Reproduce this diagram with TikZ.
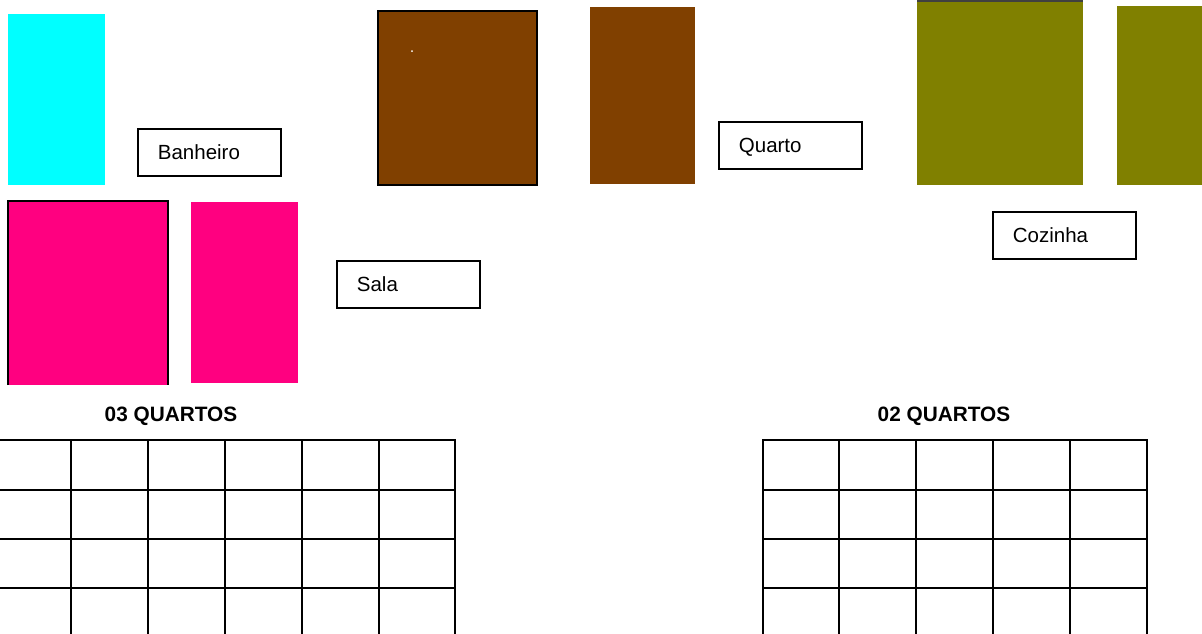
\documentclass[tikz,border=0pt]{standalone}
\usepackage{fontspec}
\setmainfont{Liberation Sans}
\definecolor{cyanfill}{HTML}{00FFFF}
\definecolor{brownfill}{HTML}{804000}
\definecolor{olivefill}{HTML}{808000}
\definecolor{pinkfill}{HTML}{FF0080}
\tikzset{
  labelbox/.style={draw=black, line width=1.7pt, anchor=north west,
    minimum width=143.5pt, minimum height=47pt, inner xsep=20pt, inner ysep=0pt,
    text width=103pt, align=left, text height=15pt, text depth=0pt,
    font=\fontsize{20.5}{24}\selectfont},
  titletext/.style={font=\fontsize{20.8}{24}\selectfont\bfseries, inner sep=0pt,
    text height=14.8pt, text depth=0pt},
  gridline/.style={line width=2pt, black},
  edgeline/.style={line width=1.6pt, black}
}
\begin{document}
\begin{tikzpicture}[x=1pt,y=-1pt]
\useasboundingbox[fill=white] (0,0) rectangle (1202,633);
% coloured blocks
\fill[cyanfill] (8,14) rectangle (105,185);
\fill[brownfill] (378,11) rectangle (537,185);
\draw[edgeline] (378,11) rectangle (537,185);
\fill[white] (412,51) circle (1pt);
\fill[brownfill] (590,7) rectangle (695,184);
\fill[olivefill] (917,1) rectangle (1083,185);
\draw[line width=1.5pt, black!75] (917,1) -- (1083,1);
\fill[olivefill] (1117,6) rectangle (1202,185);
\fill[pinkfill] (8,201) rectangle (168,385);
\draw[edgeline] (8,385) -- (8,201) -- (168,201) -- (168,385);
\fill[pinkfill] (191,202) rectangle (298,383);
% labels
\node[labelbox] (banheiro) at (136.8,127.8) {Banheiro};
\node[labelbox] (quarto) at (717.8,120.8) {Quarto};
\node[labelbox] (cozinha) at (991.8,210.8) {Cozinha};
\node[labelbox] (sala) at (335.8,259.8) {Sala};
% titles
\node[titletext] (t3) at (171,414.5) {03 QUARTOS};
\node[titletext] (t2) at (944,414.5) {02 QUARTOS};
% grid 03 quartos
\foreach \yy in {440,490,539,588} {\draw[gridline] (0,\yy) -- (455,\yy);}
\foreach \xx in {71,148,225,302,379,455} {\draw[gridline] (\xx,439) -- (\xx,634);}
% grid 02 quartos
\foreach \yy in {440,490,539,588} {\draw[gridline] (763,\yy) -- (1147,\yy);}
\foreach \xx in {763,839,916,993,1070,1147} {\draw[gridline] (\xx,439) -- (\xx,634);}
\end{tikzpicture}
\end{document}
